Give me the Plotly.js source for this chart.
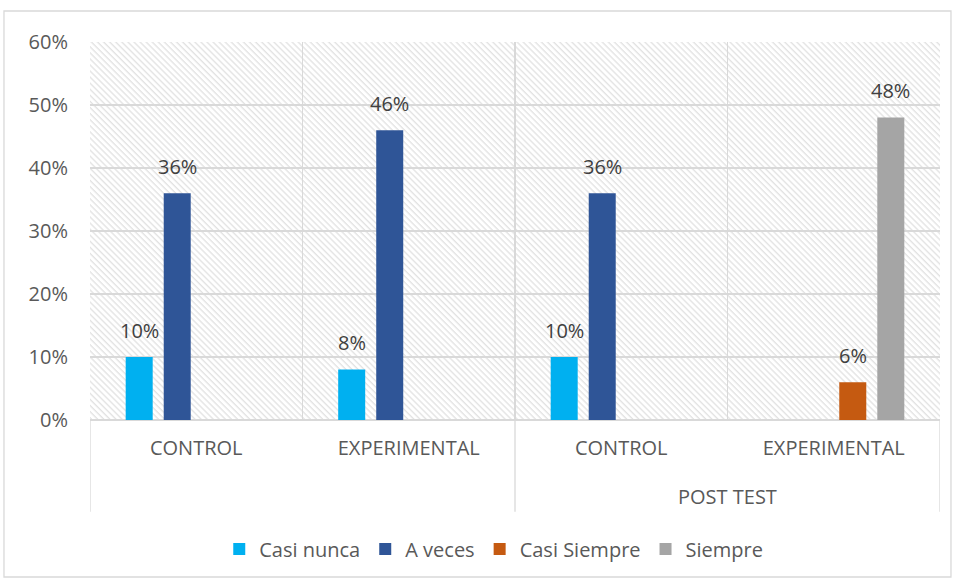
<!DOCTYPE html>
<html>
<head>
<meta charset="utf-8">
<script src="https://cdn.plot.ly/plotly-3.0.1.min.js"></script>
<style>html,body{margin:0;padding:0;background:#fff;}#chart{width:955px;height:581px;}</style>
</head>
<body>
<div id="chart"></div>
<script>
// ---- data ----
const categories = ["CONTROL", "EXPERIMENTAL", "CONTROL", "EXPERIMENTAL"];
const groupLabel = "POST TEST";          // outer label for the last two categories
const seriesNames = ["Casi nunca", "A veces", "Casi Siempre", "Siempre"];
const casiNunca   = [0.10, 0.08, 0.10, null];
const aVeces      = [0.36, 0.46, 0.36, null];
const casiSiempre = [null, null, null, 0.06];
const siempre     = [null, null, null, 0.48];
const yTicks      = [0, 0.1, 0.2, 0.3, 0.4, 0.5, 0.6];

// ---- styling ----
const colors = ["#00B0F0", "#2F5597", "#C55A11", "#A5A5A5"];
const font = "'Open Sans', sans-serif";
const xs = categories.map((_, i) => i);
const allSeries = [casiNunca, aVeces, casiSiempre, siempre];
const bargap = 0.284;
const slot = (1 - bargap) / allSeries.length;

const traces = allSeries.map((vals, k) => ({
  type: "bar",
  name: seriesNames[k],
  x: xs,
  y: vals,
  marker: {color: colors[k]},
  hoverinfo: "skip"
}));

// data labels placed above each bar (positions follow the grouped-bar layout)
const labelAnns = [];
allSeries.forEach((vals, k) => {
  vals.forEach((v, i) => {
    if (v === null) return;
    labelAnns.push({
      text: Math.round(v * 100) + "%",
      xref: "x", yref: "y",
      x: xs[i] + (k - (allSeries.length - 1) / 2) * slot, y: v,
      yanchor: "middle", xanchor: "center", yshift: 27, showarrow: false,
      font: {family: font, size: 20, color: "#404040"}
    });
  });
});

const hatchSvg = "<svg xmlns='http://www.w3.org/2000/svg' width='850' height='378'>" +
  "<defs><pattern id='p' width='4.3' height='4.3' patternUnits='userSpaceOnUse' patternTransform='rotate(-45)'>" +
  "<line x1='1' y1='0' x2='1' y2='4.3' stroke='#dcdcdc' stroke-width='1.1'/></pattern></defs>" +
  "<rect width='100%' height='100%' fill='white'/><rect width='100%' height='100%' fill='url(#p)'/></svg>";
const hatchUri = "data:image/svg+xml;charset=utf-8," + encodeURIComponent(hatchSvg);

const lineCol = "#d9d9d9";
const layout = {
  width: 955, height: 581,
  margin: {l: 90, r: 15, t: 42, b: 161},
  paper_bgcolor: "#ffffff",
  plot_bgcolor: "#ffffff",
  barmode: "group",
  bargap: bargap,
  bargroupgap: 0.29,
  showlegend: true,
  legend: {
    orientation: "h", x: 0.475, xanchor: "center", xref: "paper",
    y: -0.341, yanchor: "middle",
    font: {family: font, size: 20, color: "#595959"},
    itemwidth: 30, traceorder: "normal"
  },
  xaxis: {
    range: [-0.5, categories.length - 0.5],
    tickmode: "array", tickvals: xs, ticktext: categories,
    ticks: "", showgrid: false, zeroline: false, showline: false,
    tickfont: {family: font, size: 20, color: "#595959"},
    ticklabelstandoff: 14,
    minor: {tick0: -0.5, dtick: 1, showgrid: true, gridcolor: lineCol, gridwidth: 1.3, ticks: ""},
    fixedrange: true
  },
  yaxis: {
    range: [0, 0.6],
    tickmode: "array", tickvals: yTicks, tickformat: ".0%",
    showgrid: true, gridcolor: lineCol, gridwidth: 1.3,
    zeroline: true, zerolinecolor: lineCol, zerolinewidth: 1.3,
    showline: false, ticks: "",
    tickfont: {family: font, size: 20, color: "#595959"},
    ticklabelstandoff: 21,
    fixedrange: true
  },
  images: [{
    source: hatchUri, xref: "x", yref: "y",
    x: -0.5, y: 0.6, sizex: categories.length, sizey: 0.6,
    sizing: "stretch", xanchor: "left", yanchor: "top", layer: "below"
  }],
  shapes: [
    // category-group dividers below the axis
    {type: "line", xref: "x", yref: "paper", x0: -0.5, x1: -0.5, y0: -0.243, y1: 0, line: {color: lineCol, width: 1.3}},
    {type: "line", xref: "x", yref: "paper", x0: 1.5, x1: 1.5, y0: -0.243, y1: 0, line: {color: lineCol, width: 1.3}},
    {type: "line", xref: "x", yref: "paper", x0: 3.5, x1: 3.5, y0: -0.243, y1: 0, line: {color: lineCol, width: 1.3}},
    // outer chart border
    {type: "rect", xref: "paper", yref: "paper", x0: -0.1012, x1: 1.0129, y0: -0.4153, y1: 1.082, line: {color: lineCol, width: 1.3}, fillcolor: "rgba(0,0,0,0)"}
  ],
  annotations: labelAnns.concat([{
    text: groupLabel, xref: "x", yref: "paper", x: 2.5, y: -0.2037,
    xanchor: "center", yanchor: "middle", showarrow: false,
    font: {family: font, size: 20, color: "#595959"}
  }])
};

Plotly.newPlot("chart", traces, layout, {displayModeBar: false, staticPlot: true});
</script>
</body>
</html>
